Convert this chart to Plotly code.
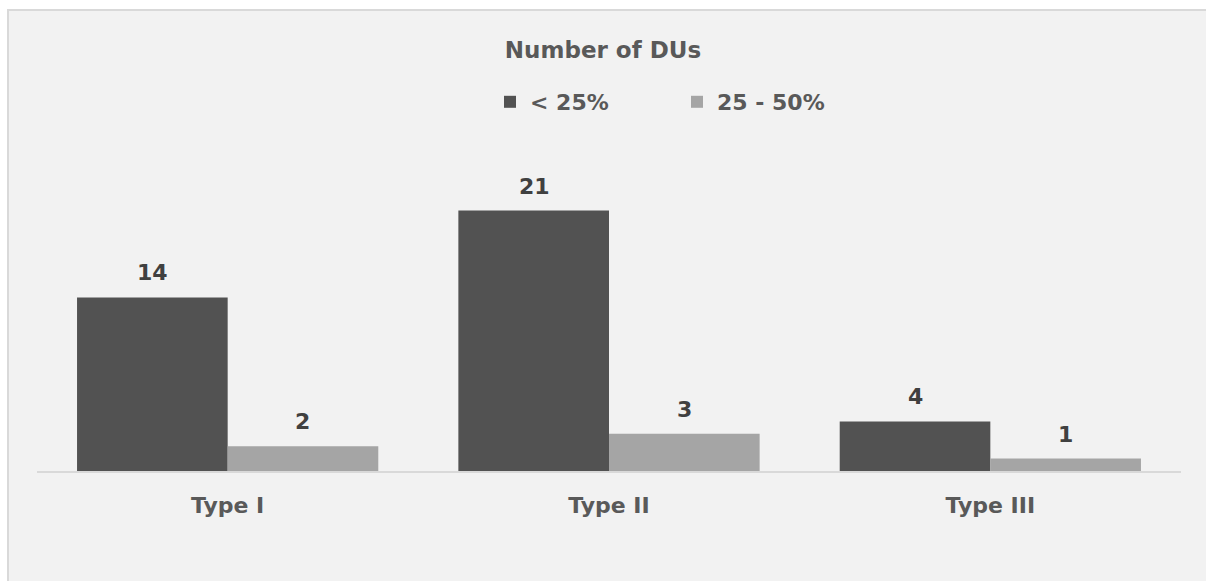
import plotly.graph_objects as go

categories = ["Type I", "Type II", "Type III"]
below_25 = [14, 21, 4]
from_25_to_50 = [2, 3, 1]
series_names = ["< 25%", "25 - 50%"]
series_colors = ["#525252", "#a5a5a5"]

FONT = "DejaVu Sans"
TEXT_GREY = "#595959"
LABEL_GREY = "#404040"

fig = go.Figure()
for name, values, color in zip(series_names, [below_25, from_25_to_50], series_colors):
    fig.add_trace(go.Bar(
        x=categories, y=values, name=f"<b>{name}</b>",
        marker=dict(color=color, line=dict(width=0)),
    ))

# value labels above each bar, offset half a bar width left/right of the category
bar_half = 75
for values, sign in [(below_25, -1), (from_25_to_50, 1)]:
    for cat, v in zip(categories, values):
        fig.add_annotation(
            x=cat, y=v, xref="x", yref="y", text=f"<b>{v}</b>",
            showarrow=False, xshift=sign * bar_half, yshift=10,
            yanchor="bottom", font=dict(family=FONT, size=22, color=LABEL_GREY),
        )

plot_h = 310
plot_w = 1144
left_m = 37
# chart frame: light grey panel with a thin border on the top and left
fig.add_shape(
    type="rect", xref="paper", yref="paper", layer="below",
    x0=(8 - left_m) / plot_w, x1=(1500 - left_m) / plot_w,
    y0=(471 - 800) / plot_h, y1=(471 - 10) / plot_h,
    fillcolor="#f2f2f2", line=dict(color="#d9d9d9", width=2),
)

fig.update_layout(
    width=1206, height=581,
    margin=dict(l=left_m, r=1206 - left_m - plot_w, t=581 - 110 - plot_h, b=110),
    paper_bgcolor="white", plot_bgcolor="rgba(0,0,0,0)",
    barmode="group", bargap=0.21, bargroupgap=0,
    title=dict(
        text="<b>Number of DUs</b>", x=0.5, xref="container", xanchor="center",
        y=1 - 50 / 581, yref="container", yanchor="middle",
        font=dict(family=FONT, size=23, color=TEXT_GREY),
    ),
    legend=dict(
        orientation="h", x=(490 - left_m) / plot_w, xanchor="left",
        y=1 - 102 / 581, yref="container", yanchor="middle",
        font=dict(family=FONT, size=22, color=TEXT_GREY),
        bgcolor="rgba(0,0,0,0)", entrywidth=142, entrywidthmode="pixels",
        itemclick=False, traceorder="normal",
    ),
    xaxis=dict(
        showline=True, linecolor="#d9d9d9", linewidth=2,
        ticks="outside", ticklen=14, tickcolor="rgba(0,0,0,0)",
        tickprefix="<b>", ticksuffix="</b>",
        tickfont=dict(family=FONT, size=22, color=TEXT_GREY),
        showgrid=False, fixedrange=True,
    ),
    yaxis=dict(range=[0, 25], visible=False, showgrid=False, zeroline=False, fixedrange=True),
    showlegend=True,
)

fig.write_html("out.html")
